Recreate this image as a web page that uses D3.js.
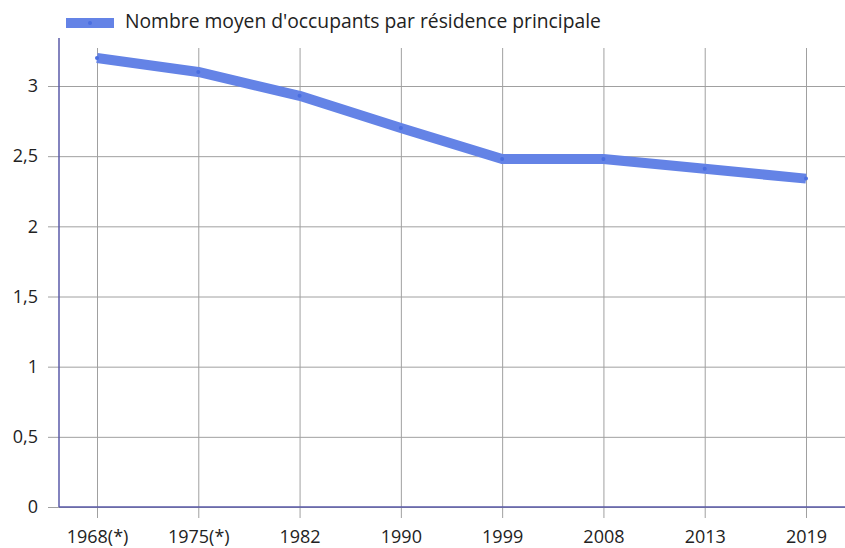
<!DOCTYPE html>
<html>
<head>
<meta charset="utf-8">
<script src="https://cdn.jsdelivr.net/npm/d3@7"></script>
<style>
  body { margin: 0; background: #fff; }
  text { font-family: "Open Sans", sans-serif; fill: #222; }
</style>
</head>
<body>
<svg id="chart" width="845" height="548"></svg>
<script>
var years = ["1968(*)", "1975(*)", "1982", "1990", "1999", "2008", "2013", "2019"];
var occupants = [3.2, 3.1, 2.93, 2.7, 2.48, 2.48, 2.41, 2.34];
var yTicks = [0, 0.5, 1, 1.5, 2, 2.5, 3];
var seriesName = "Nombre moyen d'occupants par résidence principale";

var svg = d3.select("#chart");
var mLeft = 59, mRight = 845, mTop = 38, mBottom = 507;

var x = d3.scalePoint().domain(years).range([97, 806]);
var y = d3.scaleLinear().domain([0, 3]).range([mBottom, 86]);
var fmt = function(d){ return String(d).replace(".", ","); };

// horizontal grid + y labels
svg.append("g")
  .attr("transform", "translate(" + mLeft + ",0)")
  .call(d3.axisLeft(y).tickValues(yTicks).tickSize(-(mRight - mLeft)).tickPadding(21).tickFormat(fmt))
  .call(function(g){
    g.select(".domain").remove();
    g.selectAll(".tick line").attr("stroke", "#a0a0a0").attr("x1", -11);
    g.selectAll(".tick text").attr("font-size", 18).attr("fill", "#222");
  });

// vertical grid + x labels
svg.append("g")
  .attr("transform", "translate(0," + mBottom + ")")
  .call(d3.axisBottom(x).tickSize(11).tickPadding(12))
  .call(function(g){
    g.select(".domain").remove();
    g.selectAll(".tick line").attr("stroke", "#a0a0a0").attr("y1", mTop - mBottom + 10);
    g.selectAll(".tick text").attr("font-size", 18).attr("fill", "#222");
  });

// axis lines
svg.append("line").attr("x1", mLeft).attr("x2", mLeft).attr("y1", mTop).attr("y2", mBottom)
  .attr("stroke", "#5a5aa8").attr("stroke-width", 1.5);
svg.append("line").attr("x1", mLeft).attr("x2", mRight).attr("y1", mBottom).attr("y2", mBottom)
  .attr("stroke", "#5a5aa8").attr("stroke-width", 1.5);

var line = d3.line()
  .x(function(d, i){ return x(years[i]); })
  .y(function(d){ return y(d); });

svg.append("path")
  .datum(occupants)
  .attr("d", line)
  .attr("fill", "none")
  .attr("stroke", "#6483e6")
  .attr("stroke-width", 10)
  .attr("stroke-linejoin", "round");

svg.selectAll("circle.pt")
  .data(occupants)
  .enter().append("circle")
  .attr("class", "pt")
  .attr("cx", function(d, i){ return x(years[i]); })
  .attr("cy", function(d){ return y(d); })
  .attr("r", 2)
  .attr("fill", "#4a6ee0");

// legend
var lg = svg.append("g");
lg.append("rect").attr("x", 66).attr("y", 18).attr("width", 48).attr("height", 10).attr("fill", "#6483e6");
lg.append("circle").attr("cx", 90).attr("cy", 23).attr("r", 2).attr("fill", "#4a6ee0");
lg.append("text").attr("x", 125).attr("y", 28).attr("font-size", 19.3).text(seriesName);
</script>
</body>
</html>
